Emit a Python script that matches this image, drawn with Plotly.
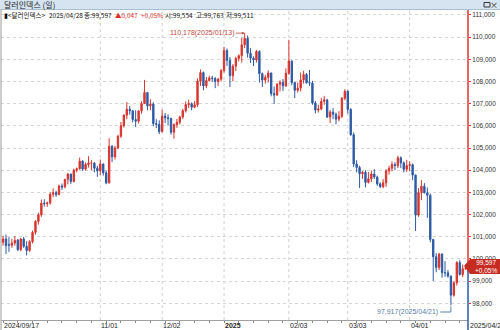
import plotly.graph_objects as go

# ---------------- data ----------------
dates = [
    "2024-09-17","2024-09-18","2024-09-19","2024-09-20","2024-09-23","2024-09-24","2024-09-25","2024-09-26","2024-09-27","2024-09-30",
    "2024-10-01","2024-10-02","2024-10-03","2024-10-04","2024-10-07","2024-10-08","2024-10-09","2024-10-10","2024-10-11","2024-10-14",
    "2024-10-15","2024-10-16","2024-10-17","2024-10-18","2024-10-21","2024-10-22","2024-10-23","2024-10-24","2024-10-25","2024-10-28",
    "2024-10-29","2024-10-30","2024-10-31",
    "2024-11-01","2024-11-04","2024-11-05","2024-11-06","2024-11-07","2024-11-08","2024-11-11","2024-11-12","2024-11-13","2024-11-14",
    "2024-11-15","2024-11-18","2024-11-19","2024-11-20","2024-11-21","2024-11-22","2024-11-25","2024-11-26","2024-11-27","2024-11-28",
    "2024-11-29",
    "2024-12-02","2024-12-03","2024-12-04","2024-12-05","2024-12-06","2024-12-09","2024-12-10","2024-12-11","2024-12-12","2024-12-13",
    "2024-12-16","2024-12-17","2024-12-18","2024-12-19","2024-12-20","2024-12-23","2024-12-24","2024-12-26","2024-12-27","2024-12-30",
    "2024-12-31",
    "2025-01-02","2025-01-03","2025-01-06","2025-01-07","2025-01-08","2025-01-09","2025-01-10","2025-01-13","2025-01-14","2025-01-15",
    "2025-01-16","2025-01-17","2025-01-20","2025-01-21","2025-01-22","2025-01-23","2025-01-24","2025-01-27","2025-01-28","2025-01-29",
    "2025-01-30","2025-01-31",
    "2025-02-03","2025-02-04","2025-02-05","2025-02-06","2025-02-07","2025-02-10","2025-02-11","2025-02-12","2025-02-13","2025-02-14",
    "2025-02-17","2025-02-18","2025-02-19","2025-02-20","2025-02-21","2025-02-24","2025-02-25","2025-02-26","2025-02-27","2025-02-28",
    "2025-03-03","2025-03-04","2025-03-05","2025-03-06","2025-03-07","2025-03-10","2025-03-11","2025-03-12","2025-03-13","2025-03-14",
    "2025-03-17","2025-03-18","2025-03-19","2025-03-20","2025-03-21","2025-03-24","2025-03-25","2025-03-26","2025-03-27","2025-03-28",
    "2025-03-31",
    "2025-04-01","2025-04-02","2025-04-03","2025-04-04","2025-04-07","2025-04-08","2025-04-09","2025-04-10","2025-04-11","2025-04-14",
    "2025-04-15","2025-04-16","2025-04-17","2025-04-18","2025-04-21","2025-04-22","2025-04-23","2025-04-24","2025-04-25","2025-04-28",
]

opens = [
    100.75,100.90,100.65,100.62,100.72,100.85,100.42,100.90,100.57,100.38,
    100.78,101.20,101.69,101.99,102.52,102.49,102.53,102.92,102.99,102.90,
    103.29,103.25,103.59,103.83,103.49,104.00,104.07,104.41,104.05,104.26,
    104.32,104.32,104.09,
    103.97,104.28,103.88,103.43,105.08,104.60,105.00,105.53,106.00,106.48,
    106.75,106.68,106.28,106.21,106.67,107.00,107.50,106.90,106.98,106.10,
    106.07,
    105.74,106.44,106.36,106.34,105.71,106.06,106.16,106.40,106.68,106.96,
    107.00,106.84,106.95,108.02,108.40,107.80,108.04,108.16,108.13,108.00,
    108.10,
    108.49,109.39,108.95,108.26,108.69,109.04,109.16,109.65,109.94,109.27,
    109.05,108.97,109.35,108.35,108.06,108.18,108.38,107.45,107.39,107.87,
    107.96,107.80,
    108.37,108.92,107.95,107.60,107.70,108.07,108.31,107.94,107.93,107.03,
    106.71,106.76,107.10,107.17,106.40,106.62,106.52,106.30,106.43,107.24,
    107.56,106.74,105.60,104.28,104.12,103.84,103.91,103.45,103.61,103.83,
    103.69,103.38,103.26,103.43,103.97,104.09,104.26,104.21,104.56,104.33,
    104.04,
    104.21,104.25,103.78,101.98,102.99,103.28,102.98,102.87,100.88,100.10,
    99.62,100.22,99.38,99.38,99.23,98.37,98.93,99.84,99.30,99.554,
]

highs = [
    101.05,101.10,100.98,100.90,101.03,100.90,100.95,101.00,100.80,100.85,
    101.28,101.75,102.08,102.68,102.69,102.58,103.00,103.18,103.08,103.35,
    103.40,103.60,103.87,103.84,104.07,104.12,104.57,104.45,104.35,104.63,
    104.45,104.37,104.20,
    104.48,104.30,103.99,105.44,105.13,105.10,105.60,106.17,106.53,107.07,
    106.90,106.70,106.70,106.70,107.10,108.07,107.50,107.20,107.06,106.30,
    106.25,
    106.73,106.58,106.52,106.36,106.11,106.31,106.46,106.76,107.10,107.18,
    107.06,107.12,108.14,108.54,108.45,108.20,108.26,108.26,108.20,108.16,
    108.56,
    109.56,109.49,109.10,108.78,109.11,109.22,109.97,110.178,110.07,109.50,
    109.13,109.42,109.40,108.40,108.30,108.50,108.40,107.77,107.93,108.05,
    108.11,108.59,
    109.88,108.95,107.98,107.95,108.40,108.48,108.38,108.52,108.03,107.12,
    106.95,107.26,107.35,107.20,106.71,106.80,106.60,106.66,107.30,107.65,
    107.60,106.80,105.70,104.45,104.20,103.96,104.00,103.92,103.98,104.05,
    103.76,103.46,103.60,104.05,104.20,104.40,104.36,104.65,104.62,104.40,
    104.47,
    104.40,104.30,103.80,103.19,103.55,103.42,103.22,102.95,100.90,100.26,
    100.27,100.25,99.90,99.50,99.25,99.00,99.90,99.95,99.75,99.763,
]

lows = [
    100.60,100.22,100.32,100.50,100.60,100.36,100.35,100.50,100.16,100.32,
    100.70,101.10,101.55,101.90,102.36,102.35,102.45,102.78,102.80,102.88,
    103.11,103.18,103.36,103.38,103.45,103.90,104.02,103.97,103.98,104.12,
    104.00,103.90,103.70,
    103.78,103.76,103.37,103.40,104.37,104.48,104.95,105.46,105.92,106.30,
    106.50,106.16,105.95,106.10,106.55,106.98,106.70,106.70,105.98,105.90,
    105.63,
    105.70,106.12,106.01,105.60,105.42,105.91,106.06,106.30,106.60,106.80,
    106.70,106.80,106.85,107.80,107.60,107.70,108.00,107.98,107.70,107.80,
    108.00,
    108.40,108.70,107.75,108.00,108.47,108.90,108.85,109.50,109.07,108.83,
    108.70,108.85,107.95,107.75,107.90,107.95,107.33,106.99,107.35,107.55,
    107.57,107.75,
    108.30,107.83,107.25,107.50,107.55,107.90,107.90,107.80,106.95,106.56,
    106.60,106.70,106.95,106.35,106.13,106.30,106.07,106.20,106.35,107.15,
    106.55,105.55,104.15,103.90,103.20,103.60,103.23,103.40,103.47,103.60,
    103.30,103.20,103.19,103.25,103.80,103.95,104.00,104.10,104.10,103.90,
    103.92,
    103.95,103.55,101.26,101.90,102.65,102.95,101.85,100.75,99.01,99.40,
    99.50,99.16,99.20,99.15,97.917,98.30,98.80,99.25,99.18,99.511,
]

closes = [
    100.90,100.60,100.62,100.72,100.83,100.42,100.90,100.57,100.38,100.78,
    101.20,101.69,101.99,102.52,102.49,102.53,102.92,102.99,102.90,103.29,
    103.25,103.59,103.83,103.49,104.00,104.07,104.41,104.05,104.26,104.32,
    104.32,104.09,103.97,
    104.28,103.88,103.43,105.08,104.60,105.00,105.53,106.00,106.48,106.75,
    106.68,106.28,106.21,106.67,107.00,107.50,106.90,106.98,106.10,106.07,
    105.74,
    106.44,106.36,106.34,105.71,106.06,106.16,106.40,106.68,106.96,107.00,
    106.84,106.95,108.02,108.40,107.80,108.04,108.16,108.13,108.00,108.10,
    108.49,
    109.39,108.95,108.26,108.69,109.04,109.16,109.65,109.94,109.27,109.05,
    108.97,109.35,108.35,108.06,108.18,108.38,107.45,107.39,107.87,107.96,
    107.80,108.37,
    108.92,107.95,107.60,107.70,108.07,108.31,107.94,107.93,107.03,106.71,
    106.76,107.10,107.17,106.40,106.62,106.52,106.30,106.43,107.24,107.56,
    106.74,105.60,104.28,104.12,103.84,103.91,103.45,103.61,103.83,103.69,
    103.38,103.26,103.43,103.97,104.09,104.26,104.21,104.56,104.33,104.04,
    104.21,
    104.25,103.78,101.98,102.99,103.28,102.98,102.87,100.88,100.10,99.62,
    100.22,99.38,99.38,99.23,98.37,98.93,99.84,99.30,99.56,99.597,
]

y_ticks = [98, 99, 100, 101, 102, 103, 104, 105, 106, 107, 108, 109, 110, 111]
x_labels = ["2024/09/17", "11/01", "12/02", "2025", "02/03", "03/03", "04/01"]
x_label_dates = ["2024-09-17", "2024-11-01", "2024-12-02", "2025-01-02", "2025-02-03", "2025-03-03", "2025-04-01"]
grid_dates = ["2024-11-01", "2024-12-02", "2025-01-02", "2025-02-03", "2025-03-03", "2025-04-01"]

title_text = "달러인덱스 (일)"
header_parts = ["▮&lt;달러인덱스&gt;", "2025/04/28", "종:99,597", "▲0,047", "+0,05%", "시:99,554", "고:99,763", "저:99,511"]
last_date_label = "2025/04/28"
high_date, high_label = "2025-01-13", "110,178(2025/01/13)"
low_date, low_label = "2025-04-21", "97,917(2025/04/21)"

# ---------------- layout geometry ----------------
W, H = 500, 330
ML, MR, MT, MB = 1, 32, 10, 10
PW, PH = W - ML - MR, H - MT - MB
Y0, Y1 = 97.25, 111.22
X0, X1 = -0.7, len(dates) - 0.2

def px(xp):
    return (xp - ML) / PW

def py(yp):
    return (H - MB - yp) / PH

idx = {d: i for i, d in enumerate(dates)}
x = list(range(len(dates)))

UP = "#d8342c"
DN = "#2d5aa5"

fig = go.Figure()
fig.add_trace(go.Candlestick(
    x=x, open=opens, high=highs, low=lows, close=closes,
    increasing=dict(line=dict(color=UP, width=1), fillcolor=UP),
    decreasing=dict(line=dict(color=DN, width=1), fillcolor=DN),
    whiskerwidth=0, showlegend=False, hoverinfo="skip",
))

shapes = []
for d in grid_dates:
    shapes.append(dict(type="line", xref="x", yref="paper", x0=idx[d], x1=idx[d], y0=0, y1=1,
                       line=dict(color="#cfcfcf", width=1, dash="dot"), layer="below"))
shapes.append(dict(type="line", xref="paper", yref="paper", x0=px(1), x1=px(1), y0=py(H), y1=py(10),
                   line=dict(color="#9a9a9a", width=1)))
# title bar
shapes.append(dict(type="rect", xref="paper", yref="paper", x0=px(0), x1=px(W), y0=py(9.5), y1=py(0),
                   fillcolor="#d6e4f2", line=dict(width=0)))
shapes.append(dict(type="line", xref="paper", yref="paper", x0=px(0), x1=px(W), y0=py(9.5), y1=py(9.5),
                   line=dict(color="#a9bfd6", width=1)))
shapes.append(dict(type="rect", xref="paper", yref="paper", x0=px(484), x1=px(490), y0=py(7), y1=py(2.5),
                   line=dict(color="#333", width=1)))
# price axis line: red above last price, blue below
last_y = 266
shapes.append(dict(type="line", xref="paper", yref="paper", x0=px(468), x1=px(468), y0=py(last_y), y1=py(10),
                   line=dict(color="#e0352b", width=1.5)))
shapes.append(dict(type="line", xref="paper", yref="paper", x0=px(468), x1=px(468), y0=py(H), y1=py(last_y),
                   line=dict(color="#2d5aa5", width=1.5)))
# current price tag
tag = [(464, 266), (470, 259), (500, 259), (500, 274), (470, 274)]
path = "M " + " L ".join(f"{px(a):.5f},{py(b):.5f}" for a, b in tag) + " Z"
shapes.append(dict(type="path", xref="paper", yref="paper", path=path, fillcolor="#c62b22", line=dict(width=0)))
lx = idx[low_date]
shapes.append(dict(type="path", xref="x", yref="y",
                   path=f"M {lx-3.6},97.61 L {lx},97.61 L {lx},{lows[lx]-0.05}",
                   line=dict(color="#5b7fa8", width=1)))

fig.update_layout(shapes=shapes)

ann = []
FONT = "Noto Sans CJK KR, Liberation Sans, sans-serif"
ann.append(dict(xref="paper", yref="paper", x=px(2), y=py(4.6), xanchor="left", yanchor="middle",
                text=title_text, showarrow=False, font=dict(family=FONT, size=8, color="#222")))
ann.append(dict(xref="paper", yref="paper", x=px(494), y=py(4.6), xanchor="center", yanchor="middle",
                text="×", showarrow=False, font=dict(family=FONT, size=8, color="#222")))
# header info line
header_x = [2, 47, 82, 113, 139, 163, 194, 224]
for part, hxp in zip(header_parts, header_x):
    red = part.startswith("▲") or part.startswith("+")
    ann.append(dict(xref="paper", yref="paper", x=px(hxp), y=py(15), xanchor="left", yanchor="middle",
                    text=part, showarrow=False,
                    font=dict(family=FONT, size=6.5, color="#e0302a" if red else "#111")))
for lab, d in zip(x_labels, x_label_dates):
    bold = lab == "2025"
    ann.append(dict(xref="x", yref="paper", x=idx[d] - 0.3, y=py(325.5), xanchor="left", yanchor="middle",
                    text=f"<b>{lab}</b>" if bold else lab, showarrow=False,
                    font=dict(family="Liberation Sans, sans-serif", size=7, color="#222")))
ann.append(dict(xref="paper", yref="paper", x=px(468), y=py(325.5), xanchor="left", yanchor="middle",
                text=last_date_label, showarrow=False,
                font=dict(family="Liberation Sans, sans-serif", size=7, color="#222")))
ann.append(dict(xref="paper", yref="paper", x=px(486), y=py(266.5), xanchor="center", yanchor="middle",
                text="99,597<br>+0,05%", showarrow=False,
                font=dict(family="Liberation Sans, sans-serif", size=6.5, color="white")))
hx = idx[high_date]
ann.append(dict(xref="x", yref="y", x=hx, y=highs[hx], ax=-9, ay=0, axref="pixel", ayref="pixel",
                xanchor="right", yanchor="middle", text=high_label, showarrow=True,
                arrowhead=2, arrowsize=0.7, arrowwidth=0.8, arrowcolor="#c0473c", standoff=0,
                font=dict(family="Liberation Sans, sans-serif", size=7, color="#c0473c")))
ann.append(dict(xref="x", yref="y", x=lx - 3.6, y=97.61, xanchor="right", yanchor="middle",
                text=low_label, showarrow=False,
                font=dict(family="Liberation Sans, sans-serif", size=7, color="#5b7fa8")))

fig.update_layout(
    annotations=ann,
    width=W, height=H,
    margin=dict(l=ML, r=MR, t=MT, b=MB, pad=0),
    paper_bgcolor="white", plot_bgcolor="white",
    boxgap=0.35,
    xaxis=dict(range=[X0, X1], rangeslider=dict(visible=False), showgrid=False, zeroline=False,
               tickmode="array", tickvals=list(range(0, len(dates), 5)), ticktext=[""] * len(range(0, len(dates), 5)),
               ticks="outside", ticklen=2, tickcolor="#888", showline=True, linecolor="#a0a0a0", linewidth=1),
    yaxis=dict(range=[Y0, Y1], side="right", zeroline=False, showline=False,
               tickmode="array", tickvals=y_ticks, ticktext=[f"{v*1000:,.0f}" for v in y_ticks],
               ticks="outside", ticklen=2, tickcolor="#e0352b",
               showgrid=True, gridcolor="#d6d6d6", griddash="dot", gridwidth=1,
               tickfont=dict(family="Liberation Sans, sans-serif", size=6.5, color="#333")),
    hovermode=False,
)

fig.write_html("out.html")
